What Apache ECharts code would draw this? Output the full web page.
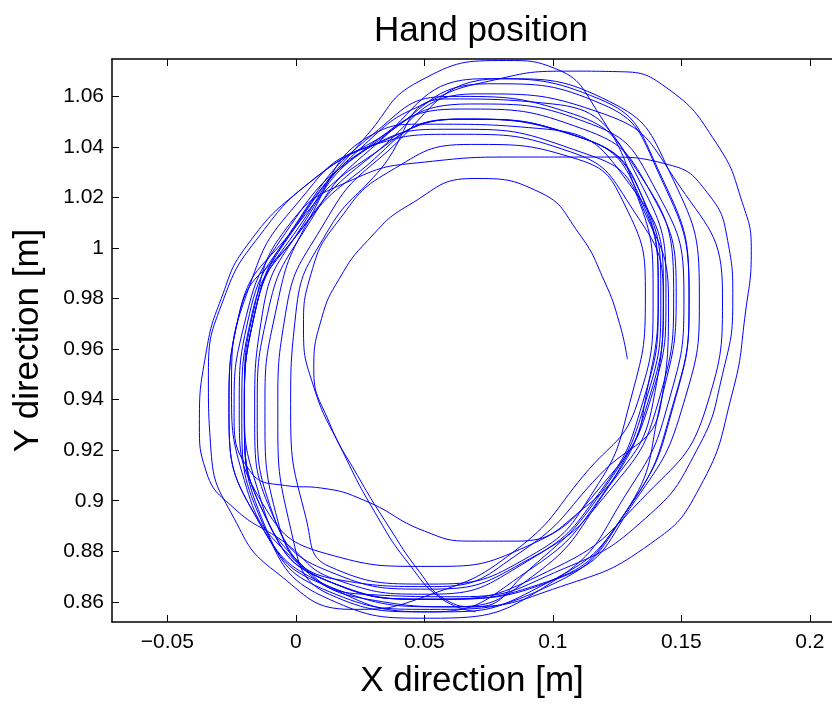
<!DOCTYPE html>
<html>
<head>
<meta charset="utf-8">
<title>Hand position</title>
<script src="https://cdn.jsdelivr.net/npm/echarts@6/dist/echarts.min.js"></script>
<style>
  html, body { margin: 0; padding: 0; background: #fff; }
  #chart { width: 832px; height: 704px; }
</style>
</head>
<body>
<div id="chart"></div>
<script>
// Recorded hand trajectory, one array per revolution (clockwise: top, right, bottom, left).
// Each entry is [x, y] in metres.
const loop00 = [[0.070,0.856],[0.057,0.861],[0.044,0.875],[0.031,0.895],[0.018,0.920],[0.007,0.945],[0.003,0.968],[0.006,0.990],[0.016,1.010],[0.036,1.030]];
const loop01 = [[0.068,1.041],[0.110,1.035],[0.128,1.017],[0.136,0.981],[0.130,0.939],[0.116,0.904],[0.091,0.878],[0.052,0.867],[0.013,0.874],[0.004,0.893],[-0.002,0.935],[0.000,0.974],[0.012,1.006],[0.032,1.030]];
const loop02 = [[0.058,1.059],[0.100,1.057],[0.130,1.035],[0.147,0.984],[0.141,0.939],[0.122,0.904],[0.091,0.877],[0.052,0.865],[0.013,0.872],[-0.009,0.895],[-0.015,0.935],[-0.011,0.974],[0.004,1.008],[0.029,1.039]];
const loop03 = [[0.073,1.067],[0.118,1.059],[0.141,1.031],[0.153,0.982],[0.147,0.939],[0.128,0.895],[0.098,0.868],[0.052,0.861],[0.013,0.868],[-0.011,0.892],[-0.020,0.935],[-0.016,0.974],[0.001,1.011],[0.030,1.045]];
const loop04 = [[0.060,1.060],[0.108,1.053],[0.134,1.026],[0.144,0.982],[0.138,0.940],[0.119,0.906],[0.090,0.882],[0.051,0.874],[0.012,0.879],[-0.013,0.899],[-0.022,0.936],[-0.018,0.974],[0.000,1.009],[0.028,1.045]];
const loop05 = [[0.048,1.066],[0.082,1.0742],[0.101,1.071],[0.118,1.053],[0.133,1.021],[0.145,0.980],[0.142,0.938],[0.118,0.910],[0.088,0.880],[0.054,0.866],[0.015,0.869],[-0.008,0.892],[-0.016,0.934],[-0.013,0.974],[0.002,1.008],[0.028,1.040]];
const loop06 = [[0.064,1.055],[0.112,1.047],[0.137,1.024],[0.148,0.981],[0.142,0.939],[0.128,0.895],[0.095,0.866],[0.055,0.856],[0.013,0.866],[-0.014,0.891],[-0.026,0.935],[-0.022,0.974],[-0.002,1.006],[0.027,1.035]];
const loop07 = [[0.064,1.051],[0.110,1.044],[0.134,1.022],[0.141,0.981],[0.135,0.939],[0.118,0.903],[0.090,0.876],[0.052,0.863],[0.015,0.869],[-0.005,0.884],[-0.024,0.897],[-0.035,0.912],[-0.0375,0.930],[-0.035,0.958],[-0.029,0.980],[-0.019,1.001],[0.003,1.024],[0.030,1.042]];
const loop08 = [[0.075,1.065],[0.119,1.057],[0.141,1.030],[0.153,0.981],[0.147,0.938],[0.130,0.898],[0.100,0.867],[0.052,0.857],[0.013,0.864],[-0.012,0.890],[-0.020,0.935],[-0.016,0.974],[0.001,1.010],[0.030,1.044]];
const loop09 = [[0.052,1.058],[0.075,1.066],[0.105,1.070],[0.125,1.0698],[0.144,1.0636],[0.1636,1.0415],[0.1737,1.018],[0.1772,0.999],[0.175,0.975],[0.1698,0.9425],[0.157,0.905],[0.138,0.883],[0.103,0.866],[0.065,0.858],[0.028,0.861],[0.000,0.877],[-0.015,0.905],[-0.020,0.940],[-0.016,0.977],[-0.002,1.010]];
const loop10 = [[0.022,1.027],[0.050,1.034],[0.087,1.036],[0.120,1.036],[0.145,1.033],[0.160,1.022],[0.168,1.003],[0.170,0.980],[0.166,0.950],[0.156,0.920],[0.136,0.893],[0.104,0.873],[0.064,0.862],[0.026,0.863],[-0.002,0.878],[-0.020,0.908],[-0.025,0.945],[-0.018,0.985],[0.000,1.017],[0.028,1.040]];
const loop11 = [[0.062,1.045],[0.107,1.038],[0.130,1.017],[0.143,0.981],[0.137,0.939],[0.119,0.902],[0.090,0.872],[0.052,0.856],[0.013,0.863],[-0.002,0.889],[-0.007,0.935],[-0.004,0.974],[0.010,1.008],[0.032,1.035]];
const loop12 = [[0.080,1.067],[0.122,1.058],[0.145,1.031],[0.157,0.982],[0.151,0.939],[0.132,0.900],[0.104,0.870],[0.052,0.861],[0.013,0.868],[-0.007,0.892],[-0.012,0.935],[-0.008,0.974],[0.005,1.011],[0.030,1.045]];
const loop13 = [[0.050,1.049],[0.098,1.047],[0.130,1.025],[0.143,0.985],[0.139,0.939],[0.120,0.903],[0.092,0.870],[0.060,0.858],[0.013,0.866],[-0.014,0.891],[-0.026,0.935],[-0.022,0.974],[-0.002,1.002],[0.022,1.028]];
const loop14 = [[0.062,1.051],[0.110,1.044],[0.133,1.022],[0.141,0.981],[0.136,0.940],[0.130,0.920],[0.112,0.897],[0.086,0.884],[0.068,0.884],[0.050,0.888],[0.027,0.900],[0.010,0.905],[-0.004,0.906],[-0.018,0.912],[-0.024,0.935],[-0.020,0.970],[-0.004,1.006],[0.026,1.038]];
const loop15 = [[0.068,1.057],[0.115,1.049],[0.139,1.025],[0.151,0.981],[0.145,0.939],[0.130,0.905],[0.100,0.868],[0.052,0.8535],[0.013,0.861],[-0.012,0.889],[-0.021,0.935],[-0.017,0.974],[0.001,1.006],[0.029,1.036]];
const loop16 = [[0.070,1.061],[0.120,1.053],[0.147,1.028],[0.166,0.982],[0.160,0.938],[0.134,0.900],[0.098,0.872],[0.054,0.861],[0.013,0.868],[-0.011,0.892],[-0.020,0.935],[-0.016,0.974],[0.001,1.008],[0.029,1.040]];
const loop17 = [[0.060,1.047],[0.108,1.039],[0.133,1.020],[0.139,0.981],[0.133,0.939],[0.112,0.910],[0.085,0.880],[0.050,0.862],[0.022,0.857],[-0.008,0.872],[-0.024,0.893],[-0.033,0.920],[-0.034,0.950],[-0.028,0.980],[-0.014,1.005],[0.008,1.028],[0.033,1.042]];
const loop18 = [[0.065,1.051],[0.110,1.044],[0.134,1.022],[0.142,0.981],[0.136,0.939],[0.118,0.902],[0.090,0.872],[0.070,0.858],[0.058,0.861],[0.048,0.872],[0.036,0.890],[0.024,0.910],[0.013,0.931],[0.007,0.952],[0.010,0.972],[0.017,0.988],[0.028,1.003],[0.044,1.017]];
const loop19 = [[0.069,1.0275],[0.095,1.022],[0.110,1.006],[0.120,0.987],[0.126,0.970],[0.129,0.956]];

const trajectory = [].concat(loop00, loop01, loop02, loop03, loop04, loop05, loop06, loop07, loop08, loop09,
  loop10, loop11, loop12, loop13, loop14, loop15, loop16, loop17, loop18, loop19);

// Axis extents and tick positions
const xRange = [-0.0715, 0.2086];
const yRange = [0.852, 1.0748];
const xTicks = [-0.05, 0, 0.05, 0.1, 0.15, 0.2];
const yTicks = [0.86, 0.88, 0.9, 0.92, 0.94, 0.96, 0.98, 1, 1.02, 1.04, 1.06];

const FONT = '"Liberation Sans", Arial, Helvetica, sans-serif';

function fmt(v) {
  const s = String(+(+v).toFixed(3));
  return s.charAt(0) === '-' ? '\u2212' + s.slice(1) : s;
}

const axisLineStyle = { color: '#000', width: 1.5 };
const tickStyle = { color: '#000', width: 1 };

const chart = echarts.init(document.getElementById('chart'), null, { renderer: 'canvas' });
chart.setOption({
  animation: false,
  backgroundColor: '#fff',
  title: {
    text: 'Hand position',
    left: 476, top: 9, textAlign: 'center',
    textStyle: { fontFamily: FONT, fontSize: 35, fontWeight: 'normal', color: '#000' }
  },
  grid: { left: 112, top: 59, right: -1, bottom: 71, containLabel: false },
  xAxis: [{
    type: 'value', position: 'bottom', min: xRange[0], max: xRange[1],
    name: 'X direction [m]', nameLocation: 'middle', nameGap: 42,
    nameTextStyle: { fontFamily: FONT, fontSize: 35, color: '#000' },
    axisLine: { show: true, onZero: false, lineStyle: axisLineStyle },
    axisTick: { show: true, inside: true, length: 7, customValues: xTicks, lineStyle: tickStyle },
    axisLabel: { customValues: xTicks, formatter: fmt, margin: 10, fontFamily: FONT, fontSize: 21, color: '#000' },
    splitLine: { show: false }
  }, {
    type: 'value', position: 'top', min: xRange[0], max: xRange[1],
    axisLine: { show: true, onZero: false, lineStyle: axisLineStyle },
    axisTick: { show: true, inside: true, length: 7, customValues: xTicks, lineStyle: tickStyle },
    axisLabel: { show: false },
    splitLine: { show: false }
  }],
  yAxis: [{
    type: 'value', position: 'left', min: yRange[0], max: yRange[1],
    name: 'Y direction [m]', nameLocation: 'middle', nameGap: 66, nameRotate: 90,
    nameTextStyle: { fontFamily: FONT, fontSize: 35, color: '#000' },
    axisLine: { show: true, onZero: false, lineStyle: axisLineStyle },
    axisTick: { show: true, inside: true, length: 7, customValues: yTicks, lineStyle: tickStyle },
    axisLabel: { customValues: yTicks, formatter: fmt, margin: 8, fontFamily: FONT, fontSize: 21, color: '#000' },
    splitLine: { show: false }
  }],
  series: [{
    type: 'line',
    name: 'Hand position',
    data: trajectory,
    xAxisIndex: 0, yAxisIndex: 0,
    showSymbol: false,
    smooth: 0.5,
    clip: true,
    lineStyle: { color: '#0000ff', width: 1 }
  }]
});
</script>
</body>
</html>
